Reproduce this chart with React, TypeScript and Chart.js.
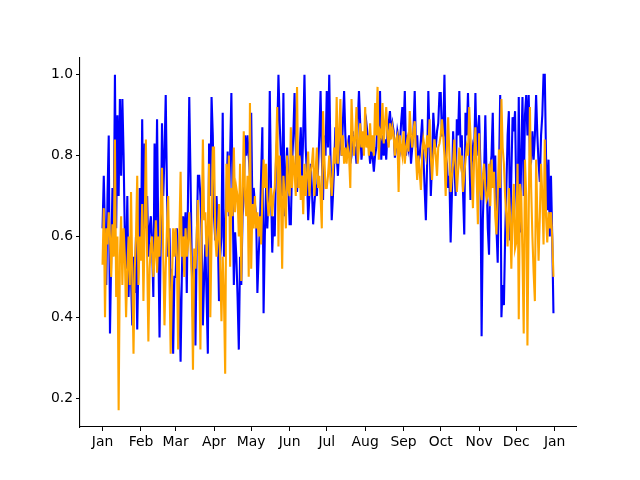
import React, { useEffect, useRef } from "react";
import { Chart, registerables } from "chart.js";

Chart.register(...registerables);

const monthLabels = ["Jan", "Feb", "Mar", "Apr", "May", "Jun", "Jul", "Aug", "Sep", "Oct", "Nov", "Dec", "Jan"];
const monthStarts = [0, 31, 59, 90, 120, 151, 181, 212, 243, 273, 304, 334, 365];
const yTicks = [0.2, 0.4, 0.6, 0.8, 1.0];

const blueJan = [0.62,0.75,0.61,0.48,0.70,0.85,0.36,0.55,0.72,0.60,1.00,0.62,0.90,0.70,0.94,0.75,0.94,0.80,0.60,0.52,0.70,0.45,0.58,0.50,0.38,0.55,0.46,0.60,0.37,0.55,0.72];
const blueFeb = [0.55,0.89,0.60,0.83,0.62,0.70,0.55,0.62,0.65,0.58,0.45,0.83,0.62,0.89,0.60,0.35,0.60,0.88,0.70,0.80,0.95,0.71,0.55,0.62,0.45,0.52,0.31,0.50];
const blueMar = [0.50,0.62,0.57,0.45,0.29,0.50,0.65,0.60,0.66,0.46,0.70,0.945,0.75,0.54,0.40,0.55,0.33,0.58,0.75,0.75,0.70,0.60,0.38,0.50,0.58,0.45,0.31,0.83,0.70,0.945,0.85];
const blueApr = [0.65,0.59,0.70,0.62,0.44,0.55,0.60,0.906,0.55,0.60,0.70,0.81,0.65,0.80,0.955,0.70,0.48,0.61,0.55,0.45,0.32,0.55,0.48,0.65,0.70,0.85,0.80,0.85,0.80,0.75];
const blueMay = [0.906,0.66,0.72,0.68,0.65,0.46,0.55,0.62,0.75,0.87,0.41,0.60,0.72,0.62,0.70,0.96,0.72,0.56,0.65,0.60,0.78,0.85,1.00,0.88,0.80,0.70,0.955,0.65,0.75,0.82,0.72];
const blueJun = [0.63,0.63,0.78,0.85,0.955,0.82,0.71,0.78,0.80,0.87,0.75,0.85,1.00,0.82,0.75,0.64,0.70,0.78,0.72,0.63,0.68,0.72,0.70,0.77,0.85,0.96,0.80,0.69,0.85,0.80];
const blueJul = [0.96,0.82,1.00,0.80,0.64,0.70,0.78,0.87,0.80,0.75,0.82,0.85,0.80,0.88,0.96,0.85,0.795,0.82,0.85,0.78,0.80,0.86,0.82,0.82,0.78,0.88,0.96,0.88,0.79,0.82,0.85];
const blueAug = [0.85,0.88,0.85,0.82,0.78,0.81,0.80,0.76,0.80,0.82,0.88,0.86,0.96,0.79,0.85,0.80,0.84,0.79,0.86,0.88,0.91,0.86,0.88,0.86,0.795,0.82,0.86,0.84,0.82,0.88,0.92];
const blueSep = [0.86,0.96,0.80,0.85,0.82,0.85,0.78,0.82,0.86,0.96,0.82,0.85,0.78,0.80,0.84,0.89,0.80,0.72,0.64,0.78,0.96,0.84,0.70,0.78,0.906,0.85,0.82,0.86,0.88,0.955];
const blueOct = [0.955,0.85,0.85,1.00,0.80,0.78,0.72,0.75,0.585,0.70,0.86,0.78,0.70,0.89,0.85,0.96,0.82,0.85,0.71,0.605,0.906,0.85,0.955,0.82,0.69,0.78,0.82,0.80,0.955,0.80,0.86];
const blueNov = [0.90,0.78,0.353,0.64,0.75,0.90,0.75,0.62,0.555,0.77,0.80,0.906,0.72,0.80,0.62,0.535,0.75,0.95,0.40,0.48,0.43,0.60,0.72,0.85,0.91,0.59,0.75,0.895,0.86,0.91];
const blueDec = [0.70,0.62,0.945,0.61,0.80,0.945,0.70,0.90,0.95,0.85,0.95,0.80,0.79,0.86,0.79,0.85,0.95,0.85,0.78,0.735,0.85,0.90,1.00,1.00,0.80,0.665,0.79,0.60,0.75,0.60,0.41];

const orangeJan = [0.53,0.67,0.40,0.62,0.58,0.66,0.60,0.50,0.63,0.55,0.84,0.45,0.60,0.17,0.55,0.65,0.48,0.62,0.55,0.40,0.52,0.60,0.48,0.71,0.50,0.31,0.52,0.60,0.75,0.48,0.60];
const orangeFeb = [0.54,0.68,0.44,0.62,0.84,0.55,0.34,0.52,0.58,0.60,0.50,0.55,0.64,0.51,0.60,0.55,0.68,0.77,0.55,0.38,0.52,0.62,0.70,0.50,0.31,0.48,0.62,0.55];
const orangeMar = [0.62,0.55,0.32,0.60,0.76,0.55,0.60,0.50,0.62,0.55,0.58,0.66,0.58,0.50,0.27,0.57,0.52,0.60,0.69,0.55,0.32,0.60,0.84,0.64,0.66,0.55,0.62,0.78,0.40,0.60,0.82];
const orangeApr = [0.82,0.60,0.55,0.60,0.68,0.52,0.39,0.55,0.45,0.26,0.78,0.66,0.80,0.525,0.72,0.65,0.82,0.66,0.72,0.70,0.60,0.78,0.49,0.70,0.86,0.70,0.65,0.75,0.50,0.93];
const orangeMay = [0.52,0.68,0.62,0.70,0.62,0.66,0.60,0.65,0.58,0.70,0.79,0.72,0.78,0.70,0.65,0.68,0.72,0.65,0.70,0.72,0.80,0.92,0.575,0.80,0.70,0.52,0.75,0.70,0.62,0.80,0.72];
const orangeJun = [0.70,0.87,0.72,0.80,0.76,0.70,0.97,0.72,0.80,0.69,0.75,0.655,0.78,0.70,0.75,0.81,0.70,0.76,0.78,0.82,0.70,0.76,0.82,0.72,0.75,0.70,0.62,0.91,0.80,0.72];
const orangeJul = [0.72,0.75,0.80,0.745,0.70,0.76,0.82,0.78,0.945,0.78,0.85,0.94,0.80,0.85,0.78,0.82,0.78,0.82,0.80,0.72,0.94,0.85,0.80,0.85,0.92,0.78,0.82,0.88,0.82,0.86,0.80];
const orangeAug = [0.92,0.82,0.85,0.80,0.88,0.81,0.85,0.80,0.93,0.85,0.97,0.79,0.86,0.85,0.93,0.83,0.88,0.92,0.85,0.82,0.88,0.84,0.87,0.85,0.80,0.84,0.85,0.71,0.85,0.82,0.80];
const orangeSep = [0.86,0.78,0.82,0.84,0.81,0.91,0.85,0.82,0.86,0.885,0.80,0.74,0.80,0.76,0.715,0.80,0.84,0.82,0.80,0.85,0.82,0.89,0.80,0.74,0.80,0.84,0.80,0.75,0.82,0.83];
const orangeOct = [0.85,0.89,0.85,0.80,0.70,0.82,0.895,0.80,0.71,0.75,0.78,0.84,0.78,0.71,0.76,0.82,0.78,0.80,0.71,0.75,0.79,0.82,0.80,0.92,0.85,0.75,0.67,0.80,0.87,0.75,0.63];
const orangeNov = [0.855,0.72,0.69,0.75,0.78,0.72,0.69,0.70,0.78,0.675,0.79,0.72,0.76,0.65,0.605,0.70,0.815,0.72,0.94,0.82,0.78,0.70,0.65,0.575,0.72,0.65,0.52,0.65,0.73,0.57];
const orangeDec = [0.585,0.78,0.395,0.73,0.70,0.55,0.36,0.79,0.70,0.33,0.65,0.92,0.72,0.60,0.51,0.44,0.79,0.65,0.54,0.65,0.78,0.70,0.58,0.84,0.65,0.585,0.66,0.62,0.66,0.60,0.50];

const blueSeries = [...blueJan, ...blueFeb, ...blueMar, ...blueApr, ...blueMay, ...blueJun, ...blueJul, ...blueAug, ...blueSep, ...blueOct, ...blueNov, ...blueDec];
const orangeSeries = [...orangeJan, ...orangeFeb, ...orangeMar, ...orangeApr, ...orangeMay, ...orangeJun, ...orangeJul, ...orangeAug, ...orangeSep, ...orangeOct, ...orangeNov, ...orangeDec];

export default function App() {
  const ref = useRef<HTMLCanvasElement | null>(null);

  useEffect(() => {
    if (!ref.current) return;
    const font = { family: "DejaVu Sans", size: 13.9 };
    const chart = new Chart(ref.current, {
      type: "line",
      data: {
        datasets: [
          {
            data: blueSeries.map((v, i) => ({ x: i, y: v })),
            borderColor: "#0000ff",
            borderWidth: 2.1,
            pointRadius: 0,
            tension: 0,
            fill: false,
            order: 1,
          },
          {
            data: orangeSeries.map((v, i) => ({ x: i, y: v })),
            borderColor: "#ffa500",
            borderWidth: 2.1,
            pointRadius: 0,
            tension: 0,
            fill: false,
            order: 0,
          },
        ],
      },
      options: {
        animation: false,
        responsive: false,
        devicePixelRatio: 1,
        layout: { padding: { left: 0, top: 58, right: 64, bottom: 0 } },
        plugins: { legend: { display: false }, tooltip: { enabled: false } },
        scales: {
          x: {
            type: "linear",
            min: -18.2,
            max: 382.2,
            afterBuildTicks: (scale: any) => {
              scale.ticks = monthStarts.map((v) => ({ value: v }));
            },
            afterFit: (scale: any) => {
              scale.height = 53;
            },
            grid: { display: true, drawOnChartArea: false, drawTicks: true, tickLength: 4, color: "#000", lineWidth: 1 },
            border: { display: true, color: "#000", width: 1.1 },
            ticks: {
              color: "#000",
              font,
              padding: 3,
              maxRotation: 0,
              autoSkip: false,
              callback: (value: any) => {
                const idx = monthStarts.indexOf(Number(value));
                return idx >= 0 ? monthLabels[idx] : "";
              },
            },
          },
          y: {
            type: "linear",
            min: 0.1285,
            max: 1.0415,
            afterBuildTicks: (scale: any) => {
              scale.ticks = yTicks.map((v) => ({ value: v }));
            },
            afterFit: (scale: any) => {
              scale.width = 80;
            },
            grid: { display: true, drawOnChartArea: false, drawTicks: true, tickLength: 4, color: "#000", lineWidth: 1 },
            border: { display: true, color: "#000", width: 1.1 },
            ticks: {
              color: "#000",
              font,
              padding: 3,
              callback: (value: any) => Number(value).toFixed(1),
            },
          },
        },
      },
    });
    return () => chart.destroy();
  }, []);

  return (
    <div style={{ position: "fixed", left: 0, top: 0, width: 640, height: 480, background: "#fff" }}>
      <canvas ref={ref} width={640} height={480} style={{ width: 640, height: 480 }} />
    </div>
  );
}
